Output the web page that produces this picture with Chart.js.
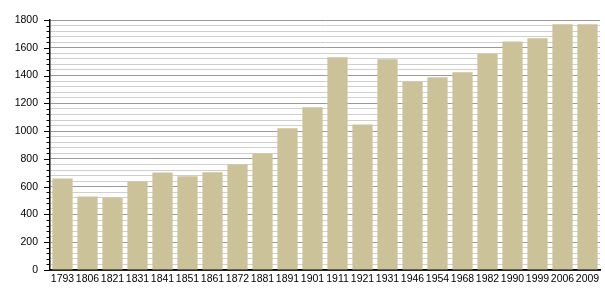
<!DOCTYPE html>
<html>
<head>
<meta charset="utf-8">
<script src="https://cdn.jsdelivr.net/npm/chart.js@4/dist/chart.umd.min.js"></script>
<style>
  html, body { margin: 0; padding: 0; background: #fff; }
  #wrap { width: 605px; height: 300px; }
</style>
</head>
<body>
<div id="wrap"><canvas id="popChart"></canvas></div>
<script>
// годы переписей
const years = ["1793", "1806", "1821", "1831", "1841", "1851", "1861", "1872", "1881", "1891", "1901",
  "1911", "1921", "1931", "1946", "1954", "1968", "1982", "1990", "1999", "2006", "2009"];
// население
const population = [659, 529, 520, 637, 702, 675, 704, 760, 839, 1021, 1172,
  1532, 1048, 1518, 1357, 1388, 1424, 1557, 1645, 1669, 1770, 1770];

const yMax = 1800;
const yMinorStep = 40;
const yMajorStep = 200;

const isMajor = v => v % yMajorStep === 0;

// короткие засечки слева от оси Y (основные длиннее)
const yTicksPlugin = {
  id: "yTicks",
  afterDraw(chart) {
    const y = chart.scales.y;
    const ctx = chart.ctx;
    const x0 = chart.chartArea.left;
    ctx.save();
    ctx.strokeStyle = "#000";
    ctx.lineWidth = 1;
    y.ticks.forEach(t => {
      const py = Math.round(y.getPixelForValue(t.value)) + 0.5;
      const len = isMajor(t.value) ? 6 : 3.5;
      ctx.beginPath();
      ctx.moveTo(x0 - len, py);
      ctx.lineTo(x0, py);
      ctx.stroke();
    });
    ctx.restore();
  }
};

const labelFont = { family: "'Liberation Sans', Arial, sans-serif", size: 10.5 };

const ctx = document.getElementById("popChart").getContext("2d");
new Chart(ctx, {
  type: "bar",
  data: {
    labels: years,
    datasets: [{
      data: population,
      backgroundColor: "rgb(204,194,153)",
      borderWidth: 0,
      barPercentage: 0.81,
      categoryPercentage: 1
    }]
  },
  options: {
    responsive: true,
    maintainAspectRatio: false,
    animation: false,
    layout: { padding: { top: 20, right: 5, left: 0, bottom: 0 } },
    plugins: { legend: { display: false }, tooltip: { enabled: false } },
    scales: {
      x: {
        grid: { display: false, drawTicks: false },
        border: { display: true, color: "#000", width: 1.8 },
        ticks: {
          color: "#000",
          font: labelFont,
          maxRotation: 0,
          autoSkip: false,
          padding: 3
        },
        afterFit(scale) { scale.height = 30; }
      },
      y: {
        min: 0,
        max: yMax,
        grid: {
          drawTicks: false,
          color: c => isMajor(c.tick.value) ? "#9a9a9a" : "#cfcfcf",
          lineWidth: 1
        },
        border: { display: true, color: "#000", width: 1.5 },
        ticks: {
          stepSize: yMinorStep,
          color: "#000",
          font: labelFont,
          padding: 12,
          autoSkip: false,
          callback: v => isMajor(v) ? v : ""
        },
        afterFit(scale) { scale.width = 50; }
      }
    }
  },
  plugins: [yTicksPlugin]
});
</script>
</body>
</html>
